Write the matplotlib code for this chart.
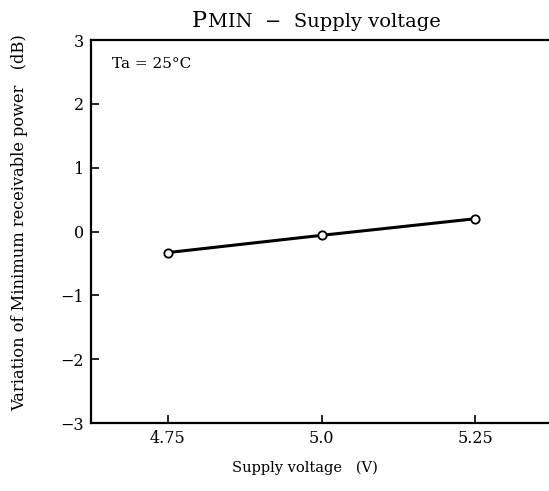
import matplotlib.pyplot as plt

# Data
voltage = [4.75, 5.0, 5.25]
pmin_variation = [-0.33, -0.06, 0.2]
x_ticks = [4.75, 5.0, 5.25]
x_tick_labels = ['4.75', '5.0', '5.25']
y_ticks = [-3, -2, -1, 0, 1, 2, 3]

plt.rcParams['font.family'] = 'DejaVu Serif'

fig = plt.figure(figsize=(5.49, 4.91), dpi=100)
ax = fig.add_axes([91 / 549, 1 - 423 / 491, 1 - 91 / 549, (423 - 40) / 491])

ax.plot(voltage, pmin_variation, color='black', linewidth=2.2,
        marker='o', markersize=6, markerfacecolor='white',
        markeredgecolor='black', markeredgewidth=1.3)

ax.set_xlim(4.625, 5.37)
ax.set_ylim(-3, 3)
ax.set_xticks(x_ticks)
ax.set_xticklabels(x_tick_labels)
ax.set_yticks(y_ticks)
ax.set_yticklabels(['\u2212' + str(-v) if v < 0 else str(v) for v in y_ticks])

ax.spines['right'].set_visible(False)
for s in ['left', 'bottom', 'top']:
    ax.spines[s].set_linewidth(1.6)
ax.tick_params(direction='in', length=6, width=1.2, labelsize=11.5, pad=5)

ax.text(0.045, 0.955, 'Ta = 25\u00b0C', transform=ax.transAxes,
        ha='left', va='top', fontsize=11)

# Title with smaller "MIN"
fig.text(192 / 549, 1 - 27 / 491, 'P', ha='left', va='baseline', fontsize=16)
fig.text(208 / 549, 1 - 27 / 491, 'MIN  \u2212  Supply voltage',
         ha='left', va='baseline', fontsize=14)

fig.text(305 / 549, 1 - 472 / 491, 'Supply voltage   (V)', ha='center',
         va='baseline', fontsize=10.5)
fig.text(20 / 549, 1 - 223 / 491, 'Variation of Minimum receivable power   (dB)',
         ha='center', va='center', rotation=90, fontsize=11.7)

fig.savefig('out.png', dpi=100)
